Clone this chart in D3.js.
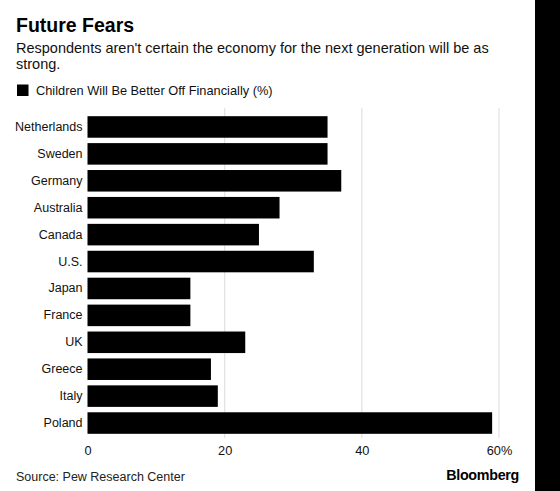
<!DOCTYPE html>
<html><head><meta charset="utf-8">
<script src="https://cdn.jsdelivr.net/npm/d3@7"></script>
<style>
html,body{margin:0;padding:0;background:#fff;}
svg{display:block;font-family:"Liberation Sans",Arial,sans-serif;}
</style></head>
<body><svg id="chart" width="560" height="491"></svg>
<script>
const countries = ["Netherlands","Sweden","Germany","Australia","Canada","U.S.","Japan","France","UK","Greece","Italy","Poland"];
const values = [35,35,37,28,25,33,15,15,23,18,19,59];
const xTicks = [0,20,40,60];
const seriesName = "Children Will Be Better Off Financially (%)";

const svg = d3.select("#chart");
svg.append("rect").attr("x",0).attr("y",0).attr("width",560).attr("height",491).attr("fill","#fff");
svg.append("rect").attr("x",535).attr("y",0).attr("width",25).attr("height",491).attr("fill","#000");

svg.append("text").attr("x",16).attr("y",32).attr("font-size",19.5).attr("font-weight","bold").attr("fill","#000").text("Future Fears");
svg.append("text").attr("x",16).attr("y",53).attr("font-size",14.5).attr("fill","#111").text("Respondents aren't certain the economy for the next generation will be as");
svg.append("text").attr("x",16).attr("y",69).attr("font-size",14.5).attr("fill","#111").text("strong.");

svg.append("rect").attr("x",17).attr("y",84.5).attr("width",11.5).attr("height",11.5).attr("fill","#000");
svg.append("text").attr("x",36).attr("y",95).attr("font-size",12.8).attr("fill","#111").text(seriesName);

const x = d3.scaleLinear().domain([0,60]).range([87.5,499]);
const y = d3.scaleBand().domain(countries).range([113.5,436.5]).paddingInner(0.2).paddingOuter(0.1);

// gridlines
svg.append("g").selectAll("line").data(xTicks.filter(d=>d>0)).join("line")
  .attr("x1",d=>x(d)).attr("x2",d=>x(d)).attr("y1",108).attr("y2",438)
  .attr("stroke","#e2e2e2").attr("stroke-width",1.2);

svg.append("g").selectAll("rect").data(countries).join("rect")
  .attr("x",x(0)).attr("y",d=>y(d)).attr("width",(d,i)=>x(values[i])-x(0)).attr("height",y.bandwidth())
  .attr("fill","#000");

// y axis labels
const yAxis = d3.axisLeft(y).tickSize(0).tickPadding(5);
const gy = svg.append("g").attr("transform",`translate(${x(0)},0)`).call(yAxis);
gy.select(".domain").remove();
gy.selectAll("text").attr("font-size",12.5).attr("fill","#111").attr("font-family","Liberation Sans, Arial, sans-serif");

// x axis labels
const xAxis = d3.axisBottom(x).tickValues(xTicks).tickSize(0).tickPadding(0)
  .tickFormat(d=> d===60 ? d+"%" : d);
const gx = svg.append("g").attr("transform",`translate(0,446)`).call(xAxis);
gx.select(".domain").remove();
gx.selectAll("text").attr("font-size",12.8).attr("fill","#111").attr("font-family","Liberation Sans, Arial, sans-serif");

svg.append("text").attr("x",16).attr("y",481).attr("font-size",12.5).attr("fill","#222").text("Source: Pew Research Center");
svg.append("text").attr("x",519).attr("y",480).attr("text-anchor","end").attr("font-size",14.3).attr("font-weight","bold").attr("fill","#000").attr("letter-spacing",-0.3).text("Bloomberg");
</script></body></html>
